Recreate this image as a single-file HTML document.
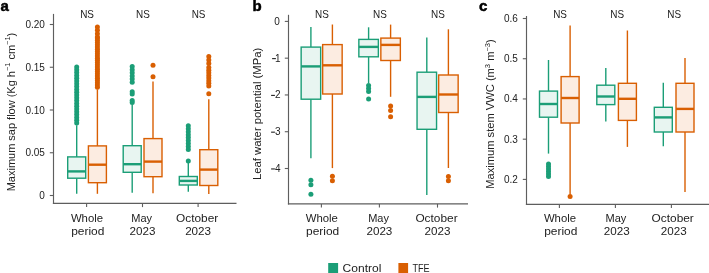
<!DOCTYPE html>
<html><head><meta charset="utf-8"><title>Box plots</title>
<style>
html,body{margin:0;padding:0;background:#fff;}
body{width:709px;height:273px;overflow:hidden;}
svg{display:block;font-family:"Liberation Sans", sans-serif;will-change:transform;}

</style></head>
<body>
<svg width="709" height="273" viewBox="0 0 709 273">
<circle cx="76.7" cy="67" r="2.5" fill="#1b9e77"/>
<circle cx="76.7" cy="69.8" r="2.5" fill="#1b9e77"/>
<circle cx="76.7" cy="72.6" r="2.5" fill="#1b9e77"/>
<circle cx="76.7" cy="75.4" r="2.5" fill="#1b9e77"/>
<circle cx="76.7" cy="78.2" r="2.5" fill="#1b9e77"/>
<circle cx="76.7" cy="81" r="2.5" fill="#1b9e77"/>
<circle cx="76.7" cy="83.8" r="2.5" fill="#1b9e77"/>
<circle cx="76.7" cy="86.6" r="2.5" fill="#1b9e77"/>
<circle cx="76.7" cy="89.4" r="2.5" fill="#1b9e77"/>
<circle cx="76.7" cy="92.2" r="2.5" fill="#1b9e77"/>
<circle cx="76.7" cy="95" r="2.5" fill="#1b9e77"/>
<circle cx="76.7" cy="97.8" r="2.5" fill="#1b9e77"/>
<circle cx="76.7" cy="100.6" r="2.5" fill="#1b9e77"/>
<circle cx="76.7" cy="103.4" r="2.5" fill="#1b9e77"/>
<circle cx="76.7" cy="106.2" r="2.5" fill="#1b9e77"/>
<circle cx="76.7" cy="109" r="2.5" fill="#1b9e77"/>
<circle cx="76.7" cy="111.8" r="2.5" fill="#1b9e77"/>
<circle cx="76.7" cy="114.6" r="2.5" fill="#1b9e77"/>
<circle cx="76.7" cy="117.4" r="2.5" fill="#1b9e77"/>
<circle cx="76.7" cy="120.2" r="2.5" fill="#1b9e77"/>
<circle cx="76.7" cy="123" r="2.5" fill="#1b9e77"/>
<line x1="76.7" y1="125.3" x2="76.7" y2="156.9" stroke="#1b9e77" stroke-width="1.4"/>
<line x1="76.7" y1="178.2" x2="76.7" y2="193.8" stroke="#1b9e77" stroke-width="1.4"/>
<rect x="67.7" y="156.9" width="18" height="21.3" fill="#e8f5f1" stroke="#1b9e77" stroke-width="1.4"/>
<line x1="67.7" y1="171.4" x2="85.7" y2="171.4" stroke="#1b9e77" stroke-width="2.4"/>
<circle cx="97.4" cy="26.9" r="2.5" fill="#d95f02"/>
<circle cx="97.4" cy="30.27" r="2.5" fill="#d95f02"/>
<circle cx="97.4" cy="33.63" r="2.5" fill="#d95f02"/>
<circle cx="97.4" cy="37" r="2.5" fill="#d95f02"/>
<circle cx="97.4" cy="38" r="2.5" fill="#d95f02"/>
<circle cx="97.4" cy="40.24" r="2.5" fill="#d95f02"/>
<circle cx="97.4" cy="42.47" r="2.5" fill="#d95f02"/>
<circle cx="97.4" cy="44.71" r="2.5" fill="#d95f02"/>
<circle cx="97.4" cy="46.95" r="2.5" fill="#d95f02"/>
<circle cx="97.4" cy="49.18" r="2.5" fill="#d95f02"/>
<circle cx="97.4" cy="51.42" r="2.5" fill="#d95f02"/>
<circle cx="97.4" cy="53.65" r="2.5" fill="#d95f02"/>
<circle cx="97.4" cy="55.89" r="2.5" fill="#d95f02"/>
<circle cx="97.4" cy="58.13" r="2.5" fill="#d95f02"/>
<circle cx="97.4" cy="60.36" r="2.5" fill="#d95f02"/>
<circle cx="97.4" cy="62.6" r="2.5" fill="#d95f02"/>
<circle cx="97.4" cy="64.84" r="2.5" fill="#d95f02"/>
<circle cx="97.4" cy="67.07" r="2.5" fill="#d95f02"/>
<circle cx="97.4" cy="69.31" r="2.5" fill="#d95f02"/>
<circle cx="97.4" cy="71.55" r="2.5" fill="#d95f02"/>
<circle cx="97.4" cy="73.78" r="2.5" fill="#d95f02"/>
<circle cx="97.4" cy="76.02" r="2.5" fill="#d95f02"/>
<circle cx="97.4" cy="78.25" r="2.5" fill="#d95f02"/>
<circle cx="97.4" cy="80.49" r="2.5" fill="#d95f02"/>
<circle cx="97.4" cy="82.73" r="2.5" fill="#d95f02"/>
<circle cx="97.4" cy="84.96" r="2.5" fill="#d95f02"/>
<circle cx="97.4" cy="87.2" r="2.5" fill="#d95f02"/>
<line x1="97.4" y1="89.5" x2="97.4" y2="145.9" stroke="#d95f02" stroke-width="1.4"/>
<line x1="97.4" y1="182.7" x2="97.4" y2="193.8" stroke="#d95f02" stroke-width="1.4"/>
<rect x="88.4" y="145.9" width="18" height="36.8" fill="#fcece1" stroke="#d95f02" stroke-width="1.4"/>
<line x1="88.4" y1="164.7" x2="106.4" y2="164.7" stroke="#d95f02" stroke-width="2.4"/>
<circle cx="132.2" cy="66.5" r="2.5" fill="#1b9e77"/>
<circle cx="132.2" cy="69.64" r="2.5" fill="#1b9e77"/>
<circle cx="132.2" cy="72.78" r="2.5" fill="#1b9e77"/>
<circle cx="132.2" cy="75.92" r="2.5" fill="#1b9e77"/>
<circle cx="132.2" cy="79.06" r="2.5" fill="#1b9e77"/>
<circle cx="132.2" cy="82.2" r="2.5" fill="#1b9e77"/>
<circle cx="132.2" cy="91.8" r="2.5" fill="#1b9e77"/>
<circle cx="132.2" cy="94.1" r="2.5" fill="#1b9e77"/>
<circle cx="132.2" cy="100.4" r="2.5" fill="#1b9e77"/>
<circle cx="132.2" cy="102.4" r="2.5" fill="#1b9e77"/>
<line x1="132.2" y1="104.5" x2="132.2" y2="145.7" stroke="#1b9e77" stroke-width="1.4"/>
<line x1="132.2" y1="172.3" x2="132.2" y2="192.7" stroke="#1b9e77" stroke-width="1.4"/>
<rect x="123.2" y="145.7" width="18" height="26.6" fill="#e8f5f1" stroke="#1b9e77" stroke-width="1.4"/>
<line x1="123.2" y1="164.2" x2="141.2" y2="164.2" stroke="#1b9e77" stroke-width="2.4"/>
<circle cx="153" cy="65.25" r="2.5" fill="#d95f02"/>
<circle cx="153" cy="76.65" r="2.5" fill="#d95f02"/>
<line x1="153" y1="81.6" x2="153" y2="138.6" stroke="#d95f02" stroke-width="1.4"/>
<line x1="153" y1="176.7" x2="153" y2="193.2" stroke="#d95f02" stroke-width="1.4"/>
<rect x="144" y="138.6" width="18" height="38.1" fill="#fcece1" stroke="#d95f02" stroke-width="1.4"/>
<line x1="144" y1="161.6" x2="162" y2="161.6" stroke="#d95f02" stroke-width="2.4"/>
<circle cx="188.3" cy="125.8" r="2.5" fill="#1b9e77"/>
<circle cx="188.3" cy="128.75" r="2.5" fill="#1b9e77"/>
<circle cx="188.3" cy="131.7" r="2.5" fill="#1b9e77"/>
<circle cx="188.3" cy="134.65" r="2.5" fill="#1b9e77"/>
<circle cx="188.3" cy="137.6" r="2.5" fill="#1b9e77"/>
<circle cx="188.3" cy="140.55" r="2.5" fill="#1b9e77"/>
<circle cx="188.3" cy="143.5" r="2.5" fill="#1b9e77"/>
<circle cx="188.3" cy="146.45" r="2.5" fill="#1b9e77"/>
<circle cx="188.3" cy="149.4" r="2.5" fill="#1b9e77"/>
<circle cx="188.3" cy="161" r="2.5" fill="#1b9e77"/>
<line x1="188.3" y1="162.5" x2="188.3" y2="176.5" stroke="#1b9e77" stroke-width="1.4"/>
<line x1="188.3" y1="185" x2="188.3" y2="191.8" stroke="#1b9e77" stroke-width="1.4"/>
<rect x="179.3" y="176.5" width="18" height="8.5" fill="#e8f5f1" stroke="#1b9e77" stroke-width="1.4"/>
<line x1="179.3" y1="180.9" x2="197.3" y2="180.9" stroke="#1b9e77" stroke-width="2.4"/>
<circle cx="208.8" cy="56.5" r="2.5" fill="#d95f02"/>
<circle cx="208.8" cy="60" r="2.5" fill="#d95f02"/>
<circle cx="208.8" cy="63.5" r="2.5" fill="#d95f02"/>
<circle cx="208.8" cy="67.5" r="2.5" fill="#d95f02"/>
<circle cx="208.8" cy="70.14" r="2.5" fill="#d95f02"/>
<circle cx="208.8" cy="72.79" r="2.5" fill="#d95f02"/>
<circle cx="208.8" cy="75.43" r="2.5" fill="#d95f02"/>
<circle cx="208.8" cy="78.07" r="2.5" fill="#d95f02"/>
<circle cx="208.8" cy="80.71" r="2.5" fill="#d95f02"/>
<circle cx="208.8" cy="83.36" r="2.5" fill="#d95f02"/>
<circle cx="208.8" cy="86" r="2.5" fill="#d95f02"/>
<circle cx="208.8" cy="93.8" r="2.5" fill="#d95f02"/>
<line x1="208.8" y1="99.3" x2="208.8" y2="149.7" stroke="#d95f02" stroke-width="1.4"/>
<line x1="208.8" y1="185.5" x2="208.8" y2="194" stroke="#d95f02" stroke-width="1.4"/>
<rect x="199.8" y="149.7" width="18" height="35.8" fill="#fcece1" stroke="#d95f02" stroke-width="1.4"/>
<line x1="199.8" y1="169.6" x2="217.8" y2="169.6" stroke="#d95f02" stroke-width="2.4"/>
<line x1="53.5" y1="13.9" x2="53.5" y2="204" stroke="#5e5e5e" stroke-width="1.15"/>
<line x1="52.9" y1="203.4" x2="236.5" y2="203.4" stroke="#5e5e5e" stroke-width="1.15"/>
<line x1="49.8" y1="195.5" x2="53.5" y2="195.5" stroke="#5e5e5e" stroke-width="1.1"/>
<text x="44.9" y="199" font-size="10" text-anchor="end" font-weight="normal" fill="#222222">0</text>
<line x1="49.8" y1="152.75" x2="53.5" y2="152.75" stroke="#5e5e5e" stroke-width="1.1"/>
<text x="44.9" y="156.25" font-size="10" text-anchor="end" font-weight="normal" fill="#222222">0.05</text>
<line x1="49.8" y1="110" x2="53.5" y2="110" stroke="#5e5e5e" stroke-width="1.1"/>
<text x="44.9" y="113.5" font-size="10" text-anchor="end" font-weight="normal" fill="#222222">0.10</text>
<line x1="49.8" y1="67.25" x2="53.5" y2="67.25" stroke="#5e5e5e" stroke-width="1.1"/>
<text x="44.9" y="70.75" font-size="10" text-anchor="end" font-weight="normal" fill="#222222">0.15</text>
<line x1="49.8" y1="24.5" x2="53.5" y2="24.5" stroke="#5e5e5e" stroke-width="1.1"/>
<text x="44.9" y="28" font-size="10" text-anchor="end" font-weight="normal" fill="#222222">0.20</text>
<line x1="86.6" y1="203.4" x2="86.6" y2="207.1" stroke="#5e5e5e" stroke-width="1.1"/>
<line x1="142.5" y1="203.4" x2="142.5" y2="207.1" stroke="#5e5e5e" stroke-width="1.1"/>
<line x1="198.1" y1="203.4" x2="198.1" y2="207.1" stroke="#5e5e5e" stroke-width="1.1"/>
<text x="87" y="221.9" font-size="10.8" text-anchor="middle" font-weight="normal" fill="#222222" textLength="32.2" lengthAdjust="spacingAndGlyphs">Whole</text>
<text x="87.8" y="234.9" font-size="10.8" text-anchor="middle" font-weight="normal" fill="#222222" textLength="33.2" lengthAdjust="spacingAndGlyphs">period</text>
<text x="87.1" y="17.6" font-size="10.3" text-anchor="middle" font-weight="normal" fill="#222222" textLength="13.8" lengthAdjust="spacingAndGlyphs">NS</text>
<text x="141.7" y="221.9" font-size="10.8" text-anchor="middle" font-weight="normal" fill="#222222" textLength="20.8" lengthAdjust="spacingAndGlyphs">May</text>
<text x="142.5" y="234.9" font-size="10.8" text-anchor="middle" font-weight="normal" fill="#222222" textLength="25.9" lengthAdjust="spacingAndGlyphs">2023</text>
<text x="143" y="17.6" font-size="10.3" text-anchor="middle" font-weight="normal" fill="#222222" textLength="13.8" lengthAdjust="spacingAndGlyphs">NS</text>
<text x="197.1" y="221.9" font-size="10.8" text-anchor="middle" font-weight="normal" fill="#222222" textLength="42.2" lengthAdjust="spacingAndGlyphs">October</text>
<text x="198.1" y="234.9" font-size="10.8" text-anchor="middle" font-weight="normal" fill="#222222" textLength="25.9" lengthAdjust="spacingAndGlyphs">2023</text>
<text x="198.6" y="17.6" font-size="10.3" text-anchor="middle" font-weight="normal" fill="#222222" textLength="13.8" lengthAdjust="spacingAndGlyphs">NS</text>
<text transform="translate(14.5,112) rotate(-90)" font-size="10.6" text-anchor="middle" fill="#222222" textLength="158.6" lengthAdjust="spacingAndGlyphs">Maximum sap flow (Kg h<tspan dy="-4.6" font-size="7.2">−1</tspan><tspan dy="4.6"> cm</tspan><tspan dy="-4.6" font-size="7.2">−1</tspan><tspan dy="4.6">)</tspan></text>
<text x="0.6" y="11" font-size="15" text-anchor="start" font-weight="bold" fill="#000" stroke="#000" stroke-width="0.5">a</text>
<line x1="310.9" y1="27.1" x2="310.9" y2="47.1" stroke="#1b9e77" stroke-width="1.4"/>
<line x1="310.9" y1="99.2" x2="310.9" y2="158.3" stroke="#1b9e77" stroke-width="1.4"/>
<rect x="301.15" y="47.1" width="19.5" height="52.1" fill="#e8f5f1" stroke="#1b9e77" stroke-width="1.4"/>
<line x1="301.15" y1="66.4" x2="320.65" y2="66.4" stroke="#1b9e77" stroke-width="2.4"/>
<circle cx="310.9" cy="180.3" r="2.5" fill="#1b9e77"/>
<circle cx="310.9" cy="184.8" r="2.5" fill="#1b9e77"/>
<circle cx="310.9" cy="194.3" r="2.5" fill="#1b9e77"/>
<line x1="332.4" y1="24.5" x2="332.4" y2="44.6" stroke="#d95f02" stroke-width="1.4"/>
<line x1="332.4" y1="94" x2="332.4" y2="168.1" stroke="#d95f02" stroke-width="1.4"/>
<rect x="322.65" y="44.6" width="19.5" height="49.4" fill="#fcece1" stroke="#d95f02" stroke-width="1.4"/>
<line x1="322.65" y1="65.3" x2="342.15" y2="65.3" stroke="#d95f02" stroke-width="2.4"/>
<circle cx="332.4" cy="176.3" r="2.5" fill="#d95f02"/>
<circle cx="332.4" cy="180.7" r="2.5" fill="#d95f02"/>
<line x1="368.6" y1="27.3" x2="368.6" y2="39.4" stroke="#1b9e77" stroke-width="1.4"/>
<line x1="368.6" y1="56.8" x2="368.6" y2="83" stroke="#1b9e77" stroke-width="1.4"/>
<rect x="358.85" y="39.4" width="19.5" height="17.4" fill="#e8f5f1" stroke="#1b9e77" stroke-width="1.4"/>
<line x1="358.85" y1="46.9" x2="378.35" y2="46.9" stroke="#1b9e77" stroke-width="2.4"/>
<circle cx="368.6" cy="85.5" r="2.5" fill="#1b9e77"/>
<circle cx="368.6" cy="88.5" r="2.5" fill="#1b9e77"/>
<circle cx="368.6" cy="91.6" r="2.5" fill="#1b9e77"/>
<circle cx="368.6" cy="99" r="2.5" fill="#1b9e77"/>
<line x1="390.6" y1="24.6" x2="390.6" y2="38.1" stroke="#d95f02" stroke-width="1.4"/>
<line x1="390.6" y1="60.5" x2="390.6" y2="96.8" stroke="#d95f02" stroke-width="1.4"/>
<rect x="380.85" y="38.1" width="19.5" height="22.4" fill="#fcece1" stroke="#d95f02" stroke-width="1.4"/>
<line x1="380.85" y1="44.9" x2="400.35" y2="44.9" stroke="#d95f02" stroke-width="2.4"/>
<circle cx="390.6" cy="106.1" r="2.5" fill="#d95f02"/>
<circle cx="390.6" cy="110.4" r="2.5" fill="#d95f02"/>
<circle cx="390.6" cy="116.8" r="2.5" fill="#d95f02"/>
<line x1="426.8" y1="37.5" x2="426.8" y2="72.2" stroke="#1b9e77" stroke-width="1.4"/>
<line x1="426.8" y1="129.3" x2="426.8" y2="195" stroke="#1b9e77" stroke-width="1.4"/>
<rect x="417.05" y="72.2" width="19.5" height="57.1" fill="#e8f5f1" stroke="#1b9e77" stroke-width="1.4"/>
<line x1="417.05" y1="96.9" x2="436.55" y2="96.9" stroke="#1b9e77" stroke-width="2.4"/>
<line x1="448.4" y1="29.3" x2="448.4" y2="75" stroke="#d95f02" stroke-width="1.4"/>
<line x1="448.4" y1="112.5" x2="448.4" y2="168" stroke="#d95f02" stroke-width="1.4"/>
<rect x="438.65" y="75" width="19.5" height="37.5" fill="#fcece1" stroke="#d95f02" stroke-width="1.4"/>
<line x1="438.65" y1="94.5" x2="458.15" y2="94.5" stroke="#d95f02" stroke-width="2.4"/>
<circle cx="448.4" cy="176.4" r="2.5" fill="#d95f02"/>
<circle cx="448.4" cy="180.8" r="2.5" fill="#d95f02"/>
<line x1="288.5" y1="14.8" x2="288.5" y2="204.5" stroke="#5e5e5e" stroke-width="1.15"/>
<line x1="287.9" y1="203.9" x2="468" y2="203.9" stroke="#5e5e5e" stroke-width="1.15"/>
<line x1="284.8" y1="21.4" x2="288.5" y2="21.4" stroke="#5e5e5e" stroke-width="1.1"/>
<text x="279.9" y="24.9" font-size="10" text-anchor="end" font-weight="normal" fill="#222222">0</text>
<line x1="284.8" y1="58.17" x2="288.5" y2="58.17" stroke="#5e5e5e" stroke-width="1.1"/>
<text x="280.5" y="61.67" font-size="10" text-anchor="end" font-weight="normal" fill="#222222">1</text>
<rect x="272.1" y="58.07" width="3.8" height="1.1" fill="#222222"/>
<line x1="284.8" y1="94.95" x2="288.5" y2="94.95" stroke="#5e5e5e" stroke-width="1.1"/>
<text x="280.5" y="98.45" font-size="10" text-anchor="end" font-weight="normal" fill="#222222">2</text>
<rect x="271.1" y="94.85" width="3.8" height="1.1" fill="#222222"/>
<line x1="284.8" y1="131.72" x2="288.5" y2="131.72" stroke="#5e5e5e" stroke-width="1.1"/>
<text x="280.5" y="135.22" font-size="10" text-anchor="end" font-weight="normal" fill="#222222">3</text>
<rect x="271.1" y="131.62" width="3.8" height="1.1" fill="#222222"/>
<line x1="284.8" y1="168.5" x2="288.5" y2="168.5" stroke="#5e5e5e" stroke-width="1.1"/>
<text x="280.5" y="172" font-size="10" text-anchor="end" font-weight="normal" fill="#222222">4</text>
<rect x="271.1" y="168.4" width="3.8" height="1.1" fill="#222222"/>
<line x1="321.4" y1="203.9" x2="321.4" y2="207.6" stroke="#5e5e5e" stroke-width="1.1"/>
<line x1="379.4" y1="203.9" x2="379.4" y2="207.6" stroke="#5e5e5e" stroke-width="1.1"/>
<line x1="437.5" y1="203.9" x2="437.5" y2="207.6" stroke="#5e5e5e" stroke-width="1.1"/>
<text x="321.8" y="221.9" font-size="10.8" text-anchor="middle" font-weight="normal" fill="#222222" textLength="32.2" lengthAdjust="spacingAndGlyphs">Whole</text>
<text x="322.6" y="234.9" font-size="10.8" text-anchor="middle" font-weight="normal" fill="#222222" textLength="33.2" lengthAdjust="spacingAndGlyphs">period</text>
<text x="321.9" y="17.6" font-size="10.3" text-anchor="middle" font-weight="normal" fill="#222222" textLength="13.8" lengthAdjust="spacingAndGlyphs">NS</text>
<text x="378.6" y="221.9" font-size="10.8" text-anchor="middle" font-weight="normal" fill="#222222" textLength="20.8" lengthAdjust="spacingAndGlyphs">May</text>
<text x="379.4" y="234.9" font-size="10.8" text-anchor="middle" font-weight="normal" fill="#222222" textLength="25.9" lengthAdjust="spacingAndGlyphs">2023</text>
<text x="379.9" y="17.6" font-size="10.3" text-anchor="middle" font-weight="normal" fill="#222222" textLength="13.8" lengthAdjust="spacingAndGlyphs">NS</text>
<text x="436.5" y="221.9" font-size="10.8" text-anchor="middle" font-weight="normal" fill="#222222" textLength="42.2" lengthAdjust="spacingAndGlyphs">October</text>
<text x="437.5" y="234.9" font-size="10.8" text-anchor="middle" font-weight="normal" fill="#222222" textLength="25.9" lengthAdjust="spacingAndGlyphs">2023</text>
<text x="438" y="17.6" font-size="10.3" text-anchor="middle" font-weight="normal" fill="#222222" textLength="13.8" lengthAdjust="spacingAndGlyphs">NS</text>
<text transform="translate(261.3,113.9) rotate(-90)" font-size="10.6" text-anchor="middle" fill="#222222" textLength="132.2" lengthAdjust="spacingAndGlyphs">Leaf water potential (MPa)</text>
<text x="252.4" y="11.2" font-size="15" text-anchor="start" font-weight="bold" fill="#000" stroke="#000" stroke-width="0.5">b</text>
<line x1="548.5" y1="60" x2="548.5" y2="91.1" stroke="#1b9e77" stroke-width="1.4"/>
<line x1="548.5" y1="117.2" x2="548.5" y2="153.6" stroke="#1b9e77" stroke-width="1.4"/>
<rect x="539.5" y="91.1" width="18" height="26.1" fill="#e8f5f1" stroke="#1b9e77" stroke-width="1.4"/>
<line x1="539.5" y1="104" x2="557.5" y2="104" stroke="#1b9e77" stroke-width="2.4"/>
<circle cx="548.5" cy="164" r="2.5" fill="#1b9e77"/>
<circle cx="548.5" cy="166.48" r="2.5" fill="#1b9e77"/>
<circle cx="548.5" cy="168.96" r="2.5" fill="#1b9e77"/>
<circle cx="548.5" cy="171.44" r="2.5" fill="#1b9e77"/>
<circle cx="548.5" cy="173.92" r="2.5" fill="#1b9e77"/>
<circle cx="548.5" cy="176.4" r="2.5" fill="#1b9e77"/>
<line x1="570.1" y1="25.5" x2="570.1" y2="76.6" stroke="#d95f02" stroke-width="1.4"/>
<line x1="570.1" y1="123" x2="570.1" y2="194.6" stroke="#d95f02" stroke-width="1.4"/>
<rect x="561.1" y="76.6" width="18" height="46.4" fill="#fcece1" stroke="#d95f02" stroke-width="1.4"/>
<line x1="561.1" y1="98" x2="579.1" y2="98" stroke="#d95f02" stroke-width="2.4"/>
<circle cx="570.1" cy="196.6" r="2.5" fill="#d95f02"/>
<line x1="605.8" y1="67.9" x2="605.8" y2="85.2" stroke="#1b9e77" stroke-width="1.4"/>
<line x1="605.8" y1="104.6" x2="605.8" y2="121.5" stroke="#1b9e77" stroke-width="1.4"/>
<rect x="596.8" y="85.2" width="18" height="19.4" fill="#e8f5f1" stroke="#1b9e77" stroke-width="1.4"/>
<line x1="596.8" y1="96.5" x2="614.8" y2="96.5" stroke="#1b9e77" stroke-width="2.4"/>
<line x1="627.4" y1="30.5" x2="627.4" y2="83.3" stroke="#d95f02" stroke-width="1.4"/>
<line x1="627.4" y1="120.4" x2="627.4" y2="146.9" stroke="#d95f02" stroke-width="1.4"/>
<rect x="618.4" y="83.3" width="18" height="37.1" fill="#fcece1" stroke="#d95f02" stroke-width="1.4"/>
<line x1="618.4" y1="98.8" x2="636.4" y2="98.8" stroke="#d95f02" stroke-width="2.4"/>
<line x1="663.3" y1="82.7" x2="663.3" y2="107.3" stroke="#1b9e77" stroke-width="1.4"/>
<line x1="663.3" y1="132" x2="663.3" y2="146.3" stroke="#1b9e77" stroke-width="1.4"/>
<rect x="654.3" y="107.3" width="18" height="24.7" fill="#e8f5f1" stroke="#1b9e77" stroke-width="1.4"/>
<line x1="654.3" y1="117.4" x2="672.3" y2="117.4" stroke="#1b9e77" stroke-width="2.4"/>
<line x1="685" y1="58" x2="685" y2="83.3" stroke="#d95f02" stroke-width="1.4"/>
<line x1="685" y1="132" x2="685" y2="192" stroke="#d95f02" stroke-width="1.4"/>
<rect x="676" y="83.3" width="18" height="48.7" fill="#fcece1" stroke="#d95f02" stroke-width="1.4"/>
<line x1="676" y1="108.9" x2="694" y2="108.9" stroke="#d95f02" stroke-width="2.4"/>
<line x1="526.5" y1="16" x2="526.5" y2="204.9" stroke="#5e5e5e" stroke-width="1.15"/>
<line x1="525.9" y1="204.3" x2="709" y2="204.3" stroke="#5e5e5e" stroke-width="1.15"/>
<line x1="522.8" y1="179.4" x2="526.5" y2="179.4" stroke="#5e5e5e" stroke-width="1.1"/>
<text x="517.9" y="182.9" font-size="10" text-anchor="end" font-weight="normal" fill="#222222">0.2</text>
<line x1="522.8" y1="139.18" x2="526.5" y2="139.18" stroke="#5e5e5e" stroke-width="1.1"/>
<text x="517.9" y="142.68" font-size="10" text-anchor="end" font-weight="normal" fill="#222222">0.3</text>
<line x1="522.8" y1="98.95" x2="526.5" y2="98.95" stroke="#5e5e5e" stroke-width="1.1"/>
<text x="517.9" y="102.45" font-size="10" text-anchor="end" font-weight="normal" fill="#222222">0.4</text>
<line x1="522.8" y1="58.73" x2="526.5" y2="58.73" stroke="#5e5e5e" stroke-width="1.1"/>
<text x="517.9" y="62.23" font-size="10" text-anchor="end" font-weight="normal" fill="#222222">0.5</text>
<line x1="522.8" y1="18.5" x2="526.5" y2="18.5" stroke="#5e5e5e" stroke-width="1.1"/>
<text x="517.9" y="22" font-size="10" text-anchor="end" font-weight="normal" fill="#222222">0.6</text>
<line x1="559.4" y1="204.3" x2="559.4" y2="208" stroke="#5e5e5e" stroke-width="1.1"/>
<line x1="615.4" y1="204.3" x2="615.4" y2="208" stroke="#5e5e5e" stroke-width="1.1"/>
<line x1="671.4" y1="204.3" x2="671.4" y2="208" stroke="#5e5e5e" stroke-width="1.1"/>
<text x="560" y="221.9" font-size="10.8" text-anchor="middle" font-weight="normal" fill="#222222" textLength="32.2" lengthAdjust="spacingAndGlyphs">Whole</text>
<text x="560.8" y="234.9" font-size="10.8" text-anchor="middle" font-weight="normal" fill="#222222" textLength="33.2" lengthAdjust="spacingAndGlyphs">period</text>
<text x="560.1" y="17.6" font-size="10.3" text-anchor="middle" font-weight="normal" fill="#222222" textLength="13.8" lengthAdjust="spacingAndGlyphs">NS</text>
<text x="615.9" y="221.9" font-size="10.8" text-anchor="middle" font-weight="normal" fill="#222222" textLength="20.8" lengthAdjust="spacingAndGlyphs">May</text>
<text x="616.7" y="234.9" font-size="10.8" text-anchor="middle" font-weight="normal" fill="#222222" textLength="25.9" lengthAdjust="spacingAndGlyphs">2023</text>
<text x="617.2" y="17.6" font-size="10.3" text-anchor="middle" font-weight="normal" fill="#222222" textLength="13.8" lengthAdjust="spacingAndGlyphs">NS</text>
<text x="672.7" y="221.9" font-size="10.8" text-anchor="middle" font-weight="normal" fill="#222222" textLength="42.2" lengthAdjust="spacingAndGlyphs">October</text>
<text x="673.7" y="234.9" font-size="10.8" text-anchor="middle" font-weight="normal" fill="#222222" textLength="25.9" lengthAdjust="spacingAndGlyphs">2023</text>
<text x="674.2" y="17.6" font-size="10.3" text-anchor="middle" font-weight="normal" fill="#222222" textLength="13.8" lengthAdjust="spacingAndGlyphs">NS</text>
<text transform="translate(494.2,114) rotate(-90)" font-size="10.6" text-anchor="middle" fill="#222222" textLength="149.6" lengthAdjust="spacingAndGlyphs">Maximum stem VWC (m<tspan dy="-4.6" font-size="7.2">3</tspan><tspan dy="4.6"> m</tspan><tspan dy="-4.6" font-size="7.2">−3</tspan><tspan dy="4.6">)</tspan></text>
<text x="479" y="11.4" font-size="15" text-anchor="start" font-weight="bold" fill="#000" stroke="#000" stroke-width="0.5">c</text>
<rect x="328.2" y="263" width="9.9" height="10" fill="#1b9e77"/>
<text x="342.6" y="271.7" font-size="11.2" text-anchor="start" font-weight="normal" fill="#222222" textLength="38.8" lengthAdjust="spacingAndGlyphs">Control</text>
<rect x="398.4" y="263" width="9.7" height="10" fill="#d95f02"/>
<text x="412.4" y="271.7" font-size="11.2" text-anchor="start" font-weight="normal" fill="#222222" textLength="17.2" lengthAdjust="spacingAndGlyphs">TFE</text>
</svg>
</body></html>
